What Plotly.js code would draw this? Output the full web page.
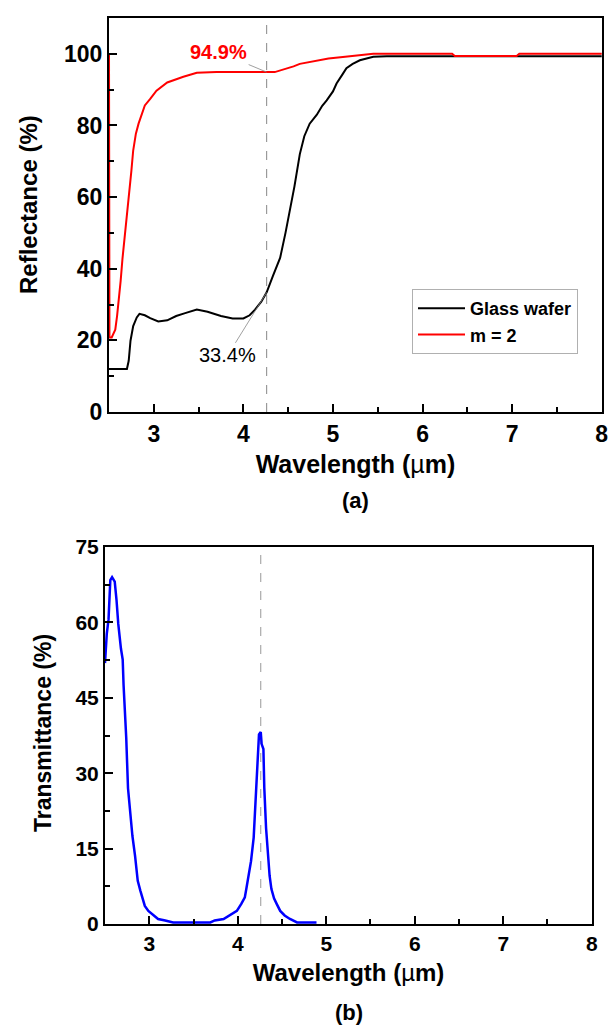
<!DOCTYPE html>
<html><head><meta charset="utf-8">
<script src="https://cdn.plot.ly/plotly-3.0.1.min.js"></script>
<style>html,body{margin:0;padding:0;background:#fff}</style>
</head><body><div id="chart" style="width:608px;height:1026px"></div>
<script>
// ---- Data: reflectance (a) ----
const glassX = [2.50,2.70,2.72,2.74,2.77,2.81,2.84,2.90,2.96,3.05,3.15,3.25,3.35,3.48,3.60,3.75,3.88,4.00,4.07,4.13,4.20,4.26,4.33,4.41,4.47,4.52,4.57,4.63,4.68,4.74,4.82,4.88,4.93,5.00,5.04,5.11,5.15,5.22,5.30,5.45,5.60,8.00];
const glassY = [12.0,12.0,14.3,19.9,24.0,26.4,27.4,27.0,26.2,25.3,25.6,26.8,27.6,28.6,28.0,26.8,26.1,26.1,27.0,28.6,30.8,33.4,38.0,43.0,50.0,56.5,63.0,72.0,77.0,80.5,83.0,85.5,87.0,89.5,91.7,94.4,96.0,97.2,98.2,99.2,99.3,99.3];
const m2X = [2.50,2.505,2.53,2.57,2.59,2.61,2.63,2.65,2.68,2.70,2.73,2.75,2.77,2.80,2.83,2.87,2.90,2.96,3.03,3.15,3.33,3.48,3.70,4.35,4.42,4.49,4.56,4.63,4.72,4.82,4.95,5.11,5.30,5.45,6.33,6.36,7.05,7.08,8.00];
const m2Y = [100,20.8,20.8,23.0,26.8,31.0,36.6,42.7,49.7,55.3,61.3,67.4,73.0,77.7,80.5,83.3,85.6,87.4,89.7,92.0,93.6,94.7,94.9,94.9,95.4,95.8,96.5,97.2,97.6,98.1,98.7,99.1,99.5,100,100,99.4,99.4,100,100];
// ---- Data: transmittance (b) ----
const transX = [2.50,2.52,2.54,2.55,2.56,2.58,2.61,2.63,2.65,2.68,2.70,2.71,2.74,2.76,2.79,2.81,2.84,2.87,2.90,2.93,2.95,2.99,3.05,3.10,3.18,3.27,3.69,3.74,3.84,3.91,3.99,4.04,4.08,4.10,4.12,4.15,4.18,4.20,4.22,4.23,4.24,4.26,4.27,4.29,4.30,4.32,4.34,4.36,4.38,4.41,4.44,4.48,4.53,4.59,4.67,4.89];
const transY = [51.9,57.7,60.6,64.5,68.4,69.0,68.1,64.5,59.7,54.8,52.6,47.5,37.0,27.0,21.0,17.5,13.5,8.6,6.6,5.0,3.6,2.6,1.7,1.0,0.7,0.3,0.3,0.7,1.0,1.7,2.6,4.0,5.3,7.3,9.3,12.5,17.2,24.0,28.5,32.4,37.7,38.2,35.8,34.8,27.1,19.1,13.5,9.6,7.0,5.1,4.0,2.6,1.7,1.0,0.3,0.3];
// ---- Labels ----
const seriesNames = ['Glass wafer', 'm = 2'];
const markerWavelength = 4.26;
const annotY = [94.9, 33.4];
const annotText = ['94.9%', '33.4%'];
const xTickVals = [3,4,5,6,7,8];
const yTickValsA = [0,20,40,60,80,100];
const yTickValsB = [0,15,30,45,60,75];
const xTitle = 'Wavelength (<span style="font-weight:normal">µ</span>m)';
const yTitleA = 'Reflectance (%)';
const yTitleB = 'Transmittance (%)';

const FONT = 'Liberation Sans, Arial, sans-serif';
const W = 608, H = 1026;
const px = v => v / W, py = v => 1 - v / H;

const traces = [
  {x: glassX, y: glassY, name: seriesNames[0], type: 'scatter', mode: 'lines',
   line: {color: '#000000', width: 2}, xaxis: 'x', yaxis: 'y'},
  {x: m2X, y: m2Y, name: seriesNames[1], type: 'scatter', mode: 'lines',
   line: {color: '#ff0000', width: 2}, xaxis: 'x', yaxis: 'y'},
  {x: transX, y: transY, name: 'T', type: 'scatter', mode: 'lines', showlegend: false,
   line: {color: '#0000ff', width: 2.5}, xaxis: 'x2', yaxis: 'y2'}
];

function xax(domain, anchor, size, titleSize) {
  return {
    domain: domain, anchor: anchor, range: [2.5, 8.003], tickvals: xTickVals,
    ticklabeloverflow: 'allow',
    showline: true, mirror: true, linecolor: '#000', linewidth: 2,
    ticks: 'inside', ticklen: 8, tickwidth: 2, tickcolor: '#000',
    minor: {dtick: 0.5, tick0: 0, ticks: 'inside', ticklen: 5, tickwidth: 2, tickcolor: '#000'},
    showgrid: false, zeroline: false,
    tickfont: {family: FONT, size: size, color: '#000', weight: 'bold'},
    title: {text: xTitle, standoff: 10,
            font: {family: FONT, size: titleSize, color: '#000', weight: 'bold'}}
  };
}
function yax(domain, anchor, range, tv, dminor, size) {
  return {
    domain: domain, anchor: anchor, range: range, tickvals: tv,
    ticklabeloverflow: 'allow',
    showline: true, mirror: true, linecolor: '#000', linewidth: 2,
    ticks: 'inside', ticklen: 8, tickwidth: 2, tickcolor: '#000',
    minor: {dtick: dminor, tick0: 0, ticks: 'inside', ticklen: 5, tickwidth: 2, tickcolor: '#000'},
    showgrid: false, zeroline: false,
    tickfont: {family: FONT, size: size, color: '#000', weight: 'bold'}
  };
}

const layout = {
  width: W, height: H, margin: {l: 0, r: 0, t: 0, b: 0},
  paper_bgcolor: '#fff', plot_bgcolor: '#fff', showlegend: true,
  xaxis: xax([px(109), px(602)], 'y', 23, 25),
  yaxis: yax([py(412), py(18)], 'x', [0, 110], yTickValsA, 10, 23),
  xaxis2: xax([px(105), px(592)], 'y2', 21, 24),
  yaxis2: yax([py(924), py(547)], 'x2', [0, 75], yTickValsB, 7.5, 21),
  legend: {x: px(412), y: py(289), xanchor: 'left', yanchor: 'top', itemwidth: 47,
           bordercolor: '#b0b0b0', borderwidth: 1, bgcolor: '#fff',
           font: {family: FONT, size: 18, color: '#000', weight: 'bold'}, tracegroupgap: 0},
  shapes: [
    {type: 'line', xref: 'x', yref: 'y domain', x0: markerWavelength, x1: markerWavelength, y0: 0, y1: 1,
     line: {color: '#888', width: 1, dash: 'dash'}, layer: 'below'},
    {type: 'line', xref: 'x2', yref: 'y2 domain', x0: markerWavelength, x1: markerWavelength, y0: 0, y1: 1,
     line: {color: '#999', width: 1, dash: 'dash'}, layer: 'below'}
  ],
  annotations: [
    {xref: 'x', yref: 'y', x: markerWavelength, y: annotY[0], text: annotText[0],
     showarrow: true, arrowhead: 0, arrowwidth: 0.8, arrowcolor: '#888', ax: -48, ay: -20,
     font: {family: FONT, size: 20, color: '#ff0000', weight: 'bold'}},
    {xref: 'x', yref: 'y', x: markerWavelength, y: annotY[1], text: annotText[1],
     showarrow: true, arrowhead: 0, arrowwidth: 0.8, arrowcolor: '#888', ax: -39, ay: 63,
     font: {family: FONT, size: 20, color: '#000'}},
    {xref: 'paper', yref: 'paper', x: px(28), y: py(205), xanchor: 'center', yanchor: 'middle',
     text: yTitleA, textangle: -90, showarrow: false,
     font: {family: FONT, size: 24, color: '#000', weight: 'bold'}},
    {xref: 'paper', yref: 'paper', x: px(43), y: py(733), xanchor: 'center', yanchor: 'middle',
     text: yTitleB, textangle: -90, showarrow: false,
     font: {family: FONT, size: 23, color: '#000', weight: 'bold'}},
    {xref: 'paper', yref: 'paper', x: px(355), y: py(500), xanchor: 'center', yanchor: 'middle',
     text: '(a)', showarrow: false,
     font: {family: FONT, size: 22, color: '#000', weight: 'bold'}},
    {xref: 'paper', yref: 'paper', x: px(349), y: py(1012), xanchor: 'center', yanchor: 'middle',
     text: '(b)', showarrow: false,
     font: {family: FONT, size: 22, color: '#000', weight: 'bold'}}
  ]
};

Plotly.newPlot('chart', traces, layout, {staticPlot: true, displayModeBar: false});
</script></body></html>
